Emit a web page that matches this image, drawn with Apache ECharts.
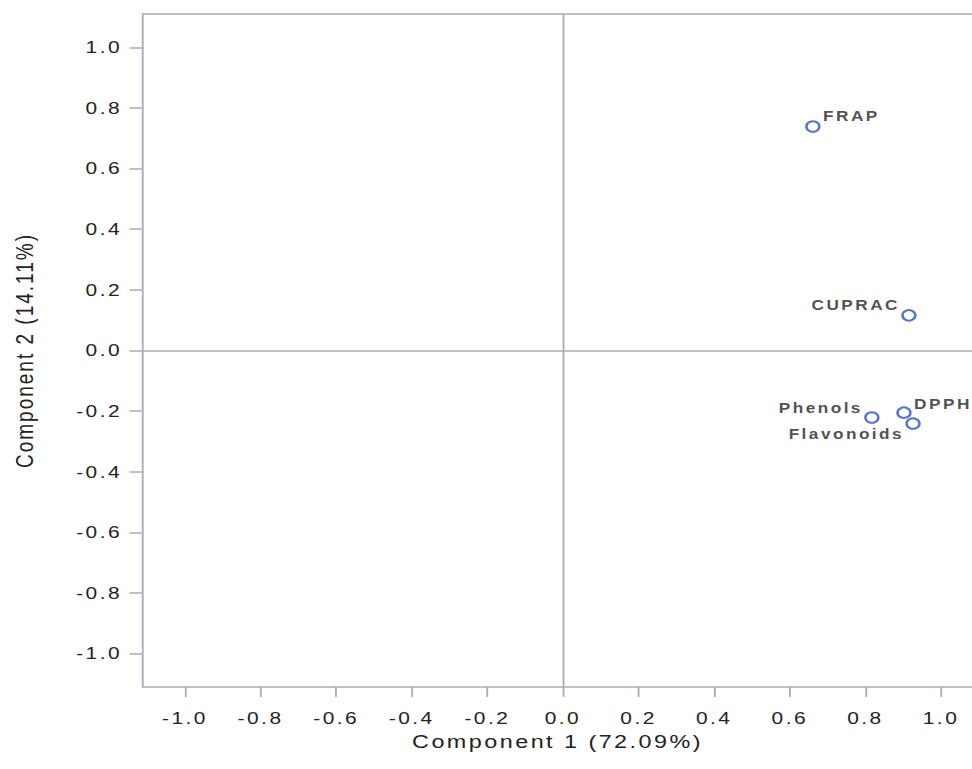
<!DOCTYPE html>
<html><head><meta charset="utf-8">
<script src="https://cdn.jsdelivr.net/npm/echarts@6/dist/echarts.min.js"></script>
<style>
html,body{margin:0;padding:0;background:#fff;overflow:hidden}
#wrap{width:972px;height:769px;overflow:hidden}
#c{width:790px;height:769px;transform:scaleX(1.2304);transform-origin:0 0}
#c svg text{letter-spacing:2px}
</style>
</head><body><div id="wrap"><div id="c"></div></div>
<script>
const names = ['FRAP', 'CUPRAC', 'Phenols', 'DPPH', 'Flavonoids'];
const comp1 = [0.661, 0.915, 0.817, 0.902, 0.926];
const comp2 = [0.739, 0.116, -0.221, -0.205, -0.241];
const tickValues = [-1.0, -0.8, -0.6, -0.4, -0.2, 0.0, 0.2, 0.4, 0.6, 0.8, 1.0];
const xTitle = 'Component 1 (72.09%)';
const yTitle = 'Component 2 (14.11%)';
const labelSide = ['right', 'left', 'left', 'right', 'left'];
const labelDy = [-10, -10, -9, -9, 11];

const gridColor = '#a6aeb6';
const chart = echarts.init(document.getElementById('c'), null, { renderer: 'svg' });
const data = names.map((n, i) => ({
  name: n,
  value: [comp1[i], comp2[i]],
  label: { position: labelSide[i], distance: labelSide[i] === 'right' ? 2 : 1, offset: [0, labelDy[i]] }
}));
chart.setOption({
  animation: false,
  grid: { left: 116.2, right: 0, top: 14, bottom: 82, show: false },
  xAxis: {
    type: 'value', min: -1.111, max: 1.082,
    name: xTitle, nameLocation: 'middle', nameGap: 43,
    nameTextStyle: { fontFamily: 'Liberation Sans', fontSize: 19, color: '#222' },
    axisLine: { show: true, onZero: false, lineStyle: { color: gridColor, width: 1.5 } },
    axisTick: { show: true, length: 10, customValues: tickValues, lineStyle: { color: gridColor, width: 1.5 } },
    axisLabel: { fontFamily: 'Liberation Sans', fontSize: 17, color: '#222', margin: 23,
      customValues: tickValues, formatter: v => v.toFixed(1) },
    splitLine: { show: false }
  },
  yAxis: {
    type: 'value', min: -1.11, max: 1.11,
    name: yTitle, nameLocation: 'middle', nameGap: 86,
    nameTextStyle: { fontFamily: 'Liberation Sans', fontSize: 19, color: '#222' },
    axisLine: { show: true, onZero: false, lineStyle: { color: gridColor, width: 1.5 } },
    axisTick: { show: true, length: 11, customValues: tickValues, lineStyle: { color: gridColor, width: 1.5 } },
    axisLabel: { fontFamily: 'Liberation Sans', fontSize: 17, color: '#222', margin: 17,
      customValues: tickValues, formatter: v => v.toFixed(1) },
    splitLine: { show: false }
  },
  series: [{
    type: 'scatter',
    symbol: 'circle', symbolSize: 10.5,
    itemStyle: { color: '#fff', borderColor: '#2b54b8', borderWidth: 2 },
    label: { show: true, formatter: p => p.name, fontFamily: 'Liberation Sans', fontSize: 14,
      fontWeight: 'bold', color: '#222' },
    data: data,
    markLine: {
      silent: true, symbol: 'none', label: { show: false },
      lineStyle: { color: gridColor, type: 'solid', width: 1.5 },
      data: [{ xAxis: 0 }, { yAxis: 0 }, { yAxis: 1.11 }]
    },
    z: 3
  }]
});
</script></body></html>
